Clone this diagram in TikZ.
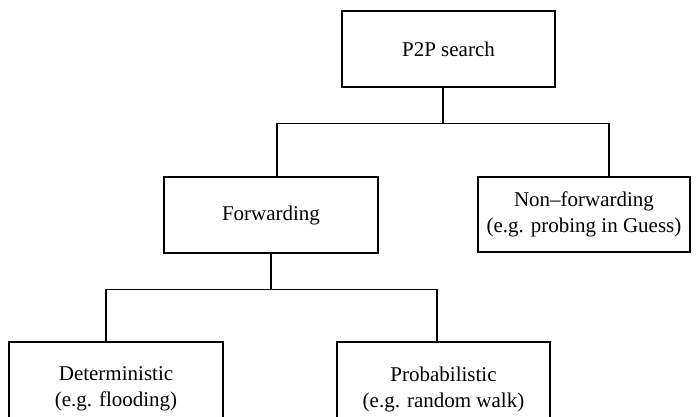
\documentclass[tikz,border=0pt]{standalone}
\usepackage{fontspec}
\setmainfont{Liberation Serif}
\begin{document}
\begin{tikzpicture}[x=1pt,y=-1pt,
  box/.style={draw, line width=1.1pt, inner sep=0pt, align=center,
    font=\fontsize{21}{26}\selectfont},
  link/.style={line width=1.1pt}]
\useasboundingbox (0,0) rectangle (696,416);
\clip (0,0) rectangle (696,416);
\node[box, minimum width=213pt, minimum height=76pt] (p2p) at (448.5,49) {P2P search};
\node[box, minimum width=214pt, minimum height=76pt] (fwd) at (271,215) {Forwarding};
\node[box, minimum width=212pt, minimum height=75pt] (nonf) at (584,214.5) {Non–forwarding\\(e.g. probing in Guess)};
\node[box, minimum width=214pt, minimum height=94pt] (det) at (116,389) {Deterministic\\(e.g. flooding)};
\node[box, minimum width=213pt, minimum height=94pt] (prob) at (443.5,389) {Probabilistic\\(e.g. random walk)};
\draw[link] ([xshift=-5.5pt]p2p.south) -- ++(0,35.5) coordinate (j1);
\draw[link] ([xshift=6pt]fwd.north) |- (j1) -| ([xshift=25pt]nonf.north);
\draw[link] (fwd.south) -- ++(0,36) coordinate (j2);
\draw[link] ([xshift=-10pt]det.north) |- (j2) -| ([xshift=-6.5pt]prob.north);
\end{tikzpicture}
\end{document}
